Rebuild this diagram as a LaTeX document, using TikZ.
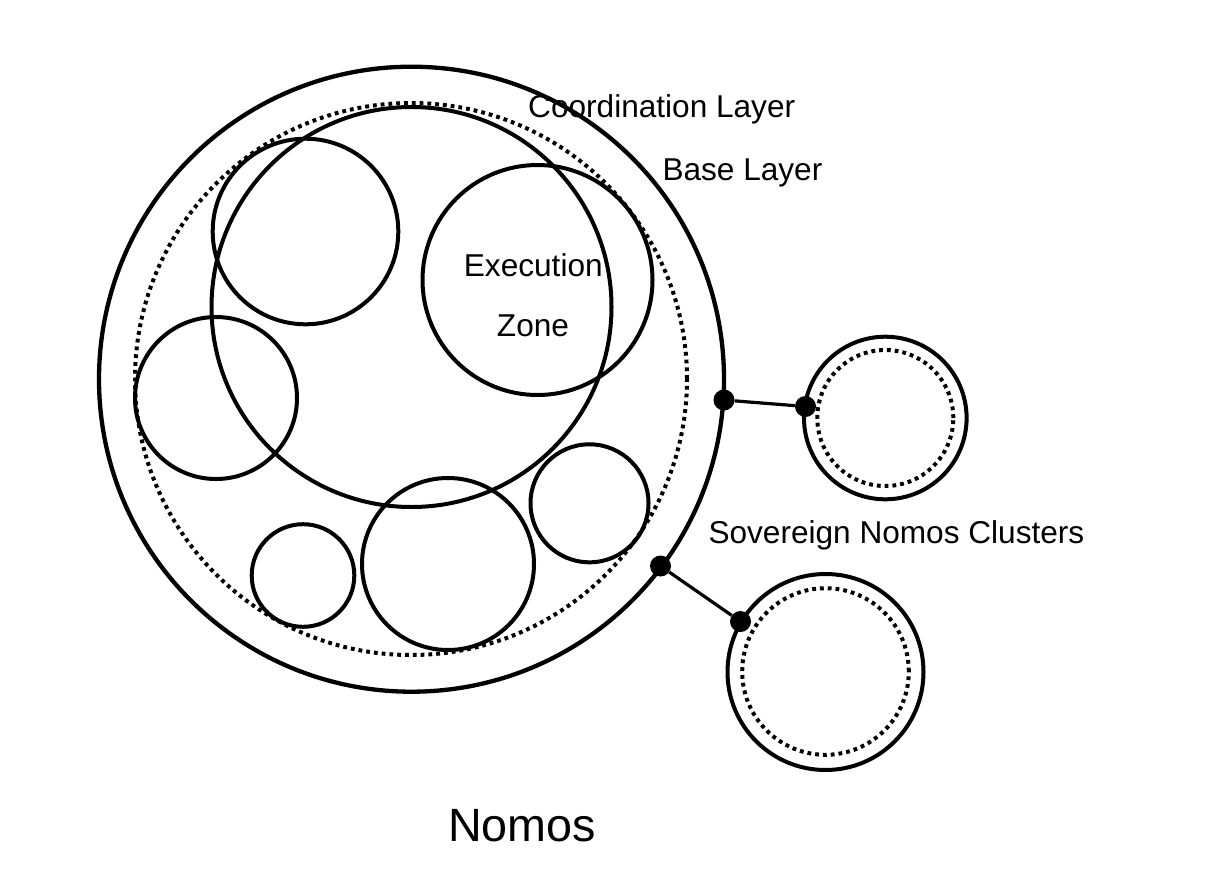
\documentclass[tikz,border=0pt]{standalone}
\usepackage{fontspec}
\setmainfont{Liberation Sans}
\begin{document}
\begin{tikzpicture}[x=1pt,y=-1pt,
  ring/.style={circle,draw=black,line width=4pt,inner sep=0pt,outer sep=0pt,fill=none},
  dotring/.style={circle,draw=black,line width=4pt,inner sep=0pt,outer sep=0pt,dash pattern=on 3.8pt off 4pt},
  joint/.style={circle,fill=black,inner sep=0pt,minimum size=21pt},
  link/.style={line width=3.2pt},
  lbl/.style={inner sep=0pt,anchor=base west,font=\fontsize{31.6pt}{38pt}\selectfont},
  lblc/.style={inner sep=0pt,anchor=base,font=\fontsize{31.6pt}{38pt}\selectfont}]
\useasboundingbox (0,0) rectangle (1208,895);
\fill[white] (0,0) rectangle (1208,895);
% main structure
\node[ring,line width=4.3pt,minimum size=625pt] (coord) at (411.5,379.2) {};
\node[dotring,minimum size=552pt] (base) at (411,379) {};
\node[ring,minimum size=400pt] (big) at (411.5,307) {};
\node[ring,minimum size=185.6pt] (tl) at (305.5,231.5) {};
\node[ring,minimum size=230pt] (exec) at (537.5,280) {};
\node[ring,minimum size=162pt] (left) at (216,398) {};
\node[ring,minimum size=102.6pt] (bs) at (303,575.5) {};
\node[ring,minimum size=172pt] (bm) at (448,564) {};
\node[ring,minimum size=118pt] (br) at (589.5,503.3) {};
% clusters
\node[ring,minimum size=162.6pt] (c1) at (885.3,418) {};
\node[dotring,minimum size=136pt] (c1d) at (885.3,418) {};
\node[ring,minimum size=196pt] (c2) at (825.5,672) {};
\node[dotring,minimum size=166.6pt] (c2d) at (825.5,671.5) {};
% joints
\node[joint] (j1) at (724,400) {};
\node[joint] (j2) at (805.5,406.5) {};
\node[joint] (j3) at (660.5,566) {};
\node[joint] (j4) at (740.5,621.5) {};
\draw[link] (j1) -- (j2);
\draw[link] (j3) -- (j4);
% labels
\node[lbl] (tcoord) at (528,117.3) {Coordination Layer};
\node[lbl] (tbase) at (662.3,180) {Base Layer};
\node[lblc] (texec) at (533.3,276.7) {Execution};
\node[lblc] (tzone) at (533,336.7) {Zone};
\node[lbl] (tsov) at (708.3,543) {Sovereign Nomos Clusters};
\node[inner sep=0pt,anchor=base,font=\fontsize{46.7pt}{56pt}\selectfont] (tnomos) at (522.2,841.7) {Nomos};
\end{tikzpicture}
\end{document}
